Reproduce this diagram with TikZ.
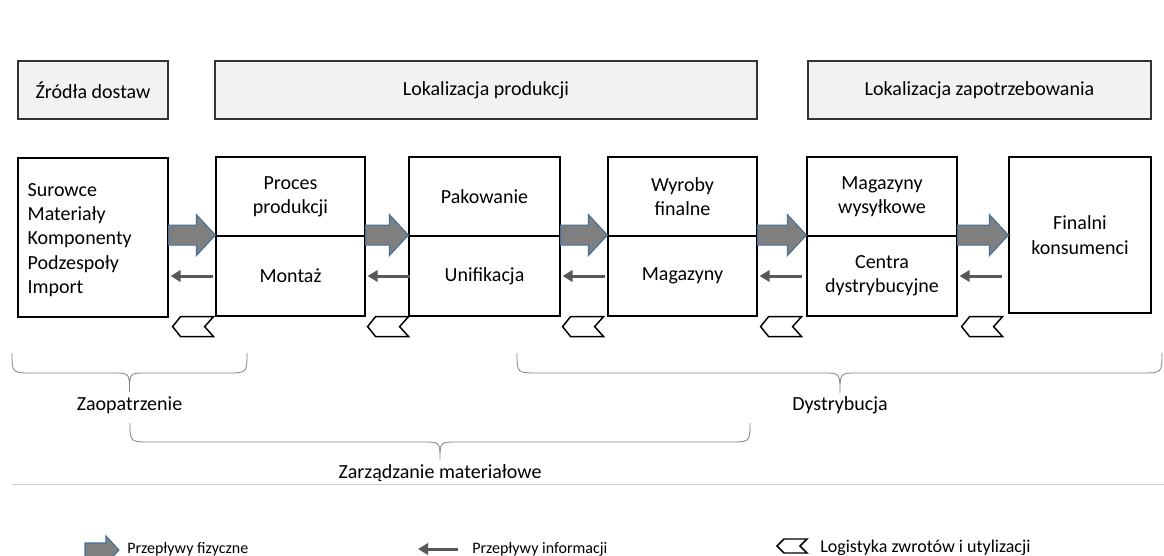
\documentclass[tikz,border=0pt]{standalone}
\usepackage{fontspec}
\setmainfont{Carlito}
\usetikzlibrary{calc,arrows.meta}

\definecolor{flowfill}{RGB}{127,127,127}
\definecolor{flowedge}{RGB}{65,113,156}
\definecolor{infocol}{RGB}{89,89,89}
\definecolor{headfill}{RGB}{242,242,242}
\definecolor{bracecol}{RGB}{128,128,128}
\definecolor{rulecol}{RGB}{200,200,200}

% wide grey arrow (physical flow) between two points at the same height
\newcommand\flowarrow[2]{%
  \coordinate (fa-s) at ($(#1)+(0,-1.5)$);
  \coordinate (fa-t) at ($(#2)+(0,-1.5)$);
  \draw[flow] ($(fa-s)+(0,-10)$) -- ($(fa-t)+(-19,-10)$) -- ($(fa-t)+(-19,-20.5)$)
    -- (fa-t) -- ($(fa-t)+(-19,20.5)$) -- ($(fa-t)+(-19,10)$) -- ($(fa-s)+(0,10)$) -- cycle;}

% curly brace: left x, right x, top y, line y, tip y, middle x
\newcommand\curlybrace[6]{%
  \draw[brace] (#1,#3) .. controls (#1,#4) .. (#1+21,#4) -- (#6-17,#4)
    .. controls (#6,#4) .. (#6,#5) .. controls (#6,#4) .. (#6+17,#4)
    -- (#2-21,#4) .. controls (#2,#4) .. (#2,#3);}

\tikzset{
  box/.style={draw=black, line width=0.9pt, fill=white, inner sep=0pt, align=center,
    font=\fontsize{15pt}{18.2pt}\selectfont},
  head/.style={draw=black!80, line width=0.9pt, fill=headfill, inner sep=0pt, align=center,
    minimum height=58*0.75pt, font=\fontsize{15pt}{18.2pt}\selectfont},
  label/.style={inner sep=0pt, font=\fontsize{15pt}{18.2pt}\selectfont},
  legend/.style={inner sep=0pt, anchor=west, font=\fontsize{12pt}{14.5pt}\selectfont},
  flow/.style={fill=flowfill, draw=flowedge, line width=0.8pt, line join=miter},
  info/.style={draw=infocol, line width=2.25pt, -{Triangle[length=7.5pt,width=8.5pt]}},
  ret/.style={draw=black, line width=1.1pt, fill=white, line join=miter},
  brace/.style={draw=bracecol, line width=0.6pt},
  retmark/.pic={\draw[ret] (0,10) -- (8,0) -- (41,0) -- (32,10) -- (41,20) -- (8,20) -- cycle;}
}

\begin{document}
\begin{tikzpicture}[x=0.75pt, y=-0.75pt]
\useasboundingbox (0,0) rectangle (1164,556);
\clip (0,0) rectangle (1164,556);

% location headers
\node[head, minimum width=150*0.75pt] (h1) at (93,90) {Źródła dostaw};
\node[head, minimum width=542*0.75pt] (h2) at (486,90) {Lokalizacja produkcji};
\node[head, minimum width=343*0.75pt] (h3) at (979.5,90) {Lokalizacja zapotrzebowania};

% stages of the chain
\node[box, minimum width=150*0.75pt, minimum height=159*0.75pt] (A) at (93,237.5) {};
\node[label, align=left, anchor=west] (Atxt) at ($(A.west)+(10,2.5)$)
  {Surowce\\Materiały\\Komponenty\\Podzespoły\\Import};

\node[box, minimum width=149*0.75pt, minimum height=79*0.75pt] (Bt) at (290.5,196.5) {Proces\\produkcji};
\node[box, minimum width=149*0.75pt, minimum height=80*0.75pt] (Bb) at (290.5,276) {Montaż};

\node[box, minimum width=151*0.75pt, minimum height=79*0.75pt] (Ct) at (484.5,196.5) {Pakowanie};
\node[box, minimum width=151*0.75pt, minimum height=80*0.75pt] (Cb) at (484.5,276) {Unifikacja};

\node[box, minimum width=149*0.75pt, minimum height=79*0.75pt] (Dt) at (682.5,196.5) {Wyroby\\finalne};
\node[box, minimum width=149*0.75pt, minimum height=80*0.75pt] (Db) at (682.5,276) {Magazyny};

\node[box, minimum width=150*0.75pt, minimum height=79*0.75pt] (Et) at (882,196.5) {Magazyny\\wysyłkowe};
\node[box, minimum width=150*0.75pt, minimum height=80*0.75pt] (Eb) at (882,276) {Centra\\dystrybucyjne};

\node[box, minimum width=142*0.75pt, minimum height=156*0.75pt] (F) at (1080,235) {Finalni\\konsumenci};

% physical flows
\flowarrow{A.east |- Bt.south}{Bt.south west}
\flowarrow{Bt.south east}{Ct.south west}
\flowarrow{Ct.south east}{Dt.south west}
\flowarrow{Dt.south east}{Et.south west}
\flowarrow{Et.south east}{F.west |- Et.south}

% information flows
\draw[info] ($(A.east |- Bb.east)+(44,0)$) -- ($(A.east |- Bb.east)+(2,0)$);
\draw[info] ($(Bb.east)+(44,0)$) -- ($(Bb.east)+(2,0)$);
\draw[info] ($(Cb.east)+(44,0)$) -- ($(Cb.east)+(2,0)$);
\draw[info] ($(Db.east)+(44,0)$) -- ($(Db.east)+(2,0)$);
\draw[info] ($(Eb.east)+(44,0)$) -- ($(Eb.east)+(2,0)$);

% returns and disposal
\pic at ($(A.south east)+(4,-1)$) {retmark};
\pic at ($(Bb.south east)+(2,0)$) {retmark};
\pic at ($(Cb.south east)+(2,0)$) {retmark};
\pic at ($(Db.south east)+(3,0)$) {retmark};
\pic at ($(Eb.south east)+(4,0)$) {retmark};

% scope braces
\curlybrace{12}{247}{353}{373}{392}{129.5}
\node[label] (zaop) at (129.5,405) {Zaopatrzenie};
\curlybrace{517}{1162}{353}{373}{393}{840}
\node[label] (dystr) at (840,405) {Dystrybucja};
\curlybrace{130}{750}{423}{442}{460}{440}
\node[label] (zarz) at (440,473) {Zarządzanie materiałowe};

\draw[rulecol, line width=0.75pt] (12,484) -- (1164,484);

% legend
\node[legend] (lg1) at (127,549) {Przepływy fizyczne};
\coordinate (lt) at ($(lg1.west)+(-8,1)$);
\draw[flow] ($(lt)+(-34,-7)$) -- ($(lt)+(-13,-7)$) -- ($(lt)+(-13,-14)$) -- (lt)
  -- ($(lt)+(-13,14)$) -- ($(lt)+(-13,7)$) -- ($(lt)+(-34,7)$) -- cycle;

\node[legend] (lg2) at (472,549) {Przepływy informacji};
\draw[info] ($(lg2.west)+(-14,0)$) -- ($(lg2.west)+(-54,0)$);

\node[legend, font=\fontsize{13.5pt}{16pt}\selectfont] (lg3) at (820,548) {Logistyka zwrotów i utylizacji};
\coordinate (lc) at ($(lg3.west)+(-43,-2)$);
\draw[ret] (lc) -- ($(lc)+(7,-7)$) -- ($(lc)+(30,-7)$) -- ($(lc)+(23,0)$)
  -- ($(lc)+(30,7)$) -- ($(lc)+(7,7)$) -- cycle;
\end{tikzpicture}
\end{document}
